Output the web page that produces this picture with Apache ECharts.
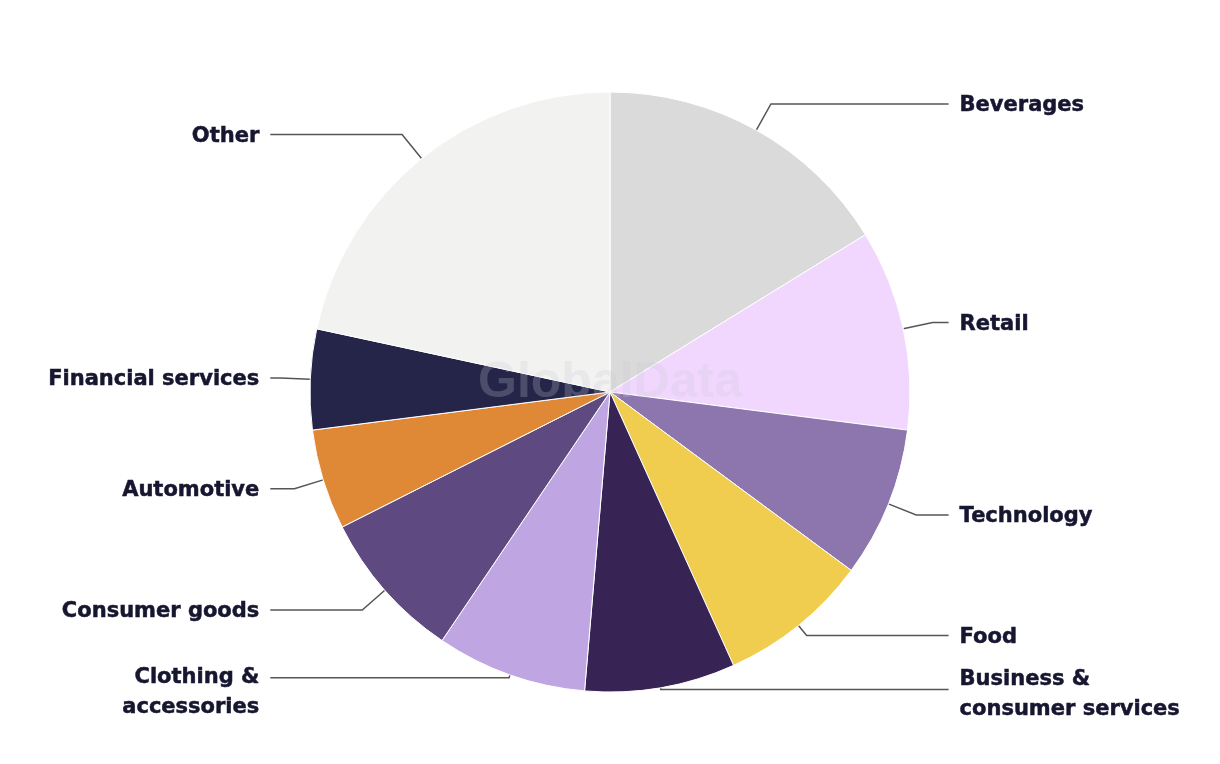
<!DOCTYPE html>
<html>
<head>
<meta charset="utf-8">
<script src="https://cdn.jsdelivr.net/npm/echarts@6/dist/echarts.min.js"></script>
<style>
html,body{margin:0;padding:0;background:#fff;}
#chart{width:1220px;height:764px;}
</style>
</head>
<body>
<div id="chart"></div>
<script>
const categories = ["Beverages","Retail","Technology","Food","Business &\nconsumer services","Clothing &\naccessories","Consumer goods","Automotive","Financial services","Other"];
const values = [6,4,3,3,3,3,3,2,2,8];
const colors = ["#dadada","#f1d7fe","#8d76ae","#f0cc4f","#372454","#bfa6e2","#5e4a80","#df8937","#25254a","#f2f2f1"];
const lineLen1 = [30,30,30,13,0,3,30,30,30,31];
const lineLen2 = [14,16,14,14,14,14,14,14,10,14];
const labelGap = ['g4','g4','g4','g4','g10','g30','g4','g4','g4','g4'];

const chart = echarts.init(document.getElementById('chart'));
const data = categories.map((c,i)=>({
  name:c, value:values[i],
  itemStyle:{color:colors[i]},
  labelLine:{length:lineLen1[i], length2:lineLen2[i]}
}));
chart.setOption({
  animation:false,
  graphic:[{
    type:'text', left:'center', top:358, z:100,
    style:{text:'GlobalData', font:'bold 50px "Liberation Sans", Arial, sans-serif', fill:'rgba(200,200,212,0.24)'}
  }],
  series:[{
    type:'pie',
    center:[610,392],
    radius:300,
    startAngle:90,
    clockwise:true,
    data:data,
    itemStyle:{borderColor:'#ffffff',borderWidth:1},
    label:{
      show:true,
      formatter:p => '{' + labelGap[p.dataIndex] + '| }\n' + p.name,
      color:'#161630',
      fontFamily:'"DejaVu Sans", sans-serif',
      fontWeight:'bold',
      fontSize:21,
      lineHeight:30,
      textBorderColor:'#161630',
      textBorderWidth:0.5,
      rich:{
        g4:{lineHeight:4, fontSize:2},
        g10:{lineHeight:10, fontSize:2},
        g30:{lineHeight:30, fontSize:2}
      },
      alignTo:'labelLine',
      distanceToLabelLine:11
    },
    labelLine:{
      show:true,
      length:30,
      length2:14,
      lineStyle:{color:'#555555',width:1.5}
    }
  }]
});
</script>
</body>
</html>
